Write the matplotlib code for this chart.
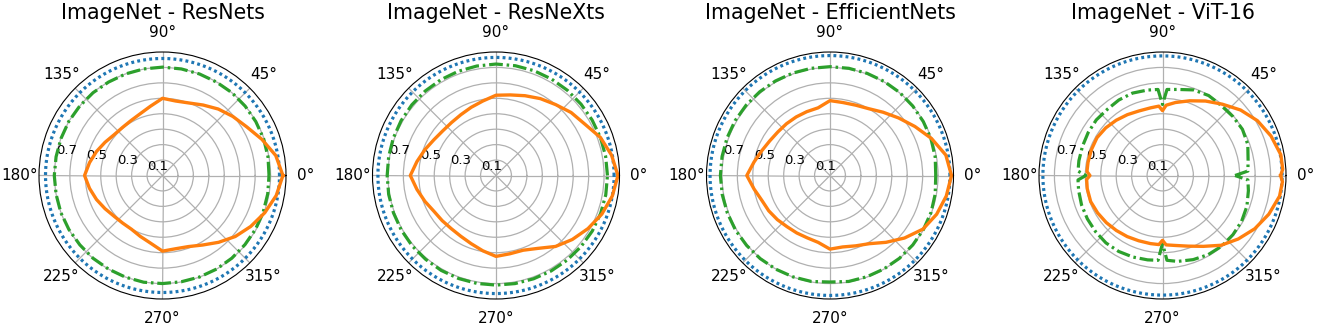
import numpy as np
import matplotlib
matplotlib.use("Agg")
import matplotlib.pyplot as plt

# angle grid (degrees) shared by the smooth curves
ANGLES = list(range(0, 360, 10))

TITLES = ["ImageNet - ResNets", "ImageNet - ResNeXts",
          "ImageNet - EfficientNets", "ImageNet - ViT-16"]

# blue dotted: constant accuracy per panel
BLUE_ACC = [0.758, 0.765, 0.777, 0.775]

# orange solid curves (accuracy vs rotation angle)
ORANGE_RESNET = [0.780, 0.745, 0.685, 0.630, 0.595, 0.562, 0.527, 0.500, 0.490, 0.500,
                 0.455, 0.425, 0.410, 0.405, 0.410, 0.430, 0.455, 0.480, 0.505, 0.480,
                 0.455, 0.430, 0.410, 0.402, 0.402, 0.420, 0.445, 0.490, 0.482, 0.490,
                 0.520, 0.565, 0.615, 0.660, 0.705, 0.748]
ORANGE_RESNEXT = [0.790, 0.760, 0.720, 0.665, 0.635, 0.600, 0.575, 0.550, 0.530, 0.520,
                  0.490, 0.470, 0.455, 0.448, 0.450, 0.464, 0.490, 0.520, 0.555, 0.520,
                  0.490, 0.464, 0.455, 0.450, 0.455, 0.470, 0.495, 0.524, 0.515, 0.515,
                  0.545, 0.600, 0.645, 0.688, 0.730, 0.765]
ORANGE_EFFNET = [0.787, 0.762, 0.700, 0.635, 0.580, 0.535, 0.500, 0.485, 0.480, 0.485,
                 0.445, 0.440, 0.438, 0.438, 0.440, 0.450, 0.470, 0.500, 0.539, 0.500,
                 0.470, 0.458, 0.445, 0.433, 0.430, 0.430, 0.440, 0.477, 0.470, 0.485,
                 0.510, 0.565, 0.630, 0.695, 0.735, 0.765]

# green dash-dot curves
GREEN_RESNET = [0.690, 0.694, 0.697, 0.698, 0.699, 0.700, 0.699, 0.700, 0.701, 0.702,
                0.701, 0.700, 0.699, 0.700, 0.700, 0.701, 0.700, 0.700, 0.701, 0.700,
                0.701, 0.700, 0.699, 0.700, 0.700, 0.701, 0.702, 0.700, 0.699, 0.700,
                0.700, 0.699, 0.697, 0.696, 0.694, 0.692]
GREEN_RESNEXT = [0.722, 0.721, 0.720, 0.719, 0.719, 0.720, 0.721, 0.722, 0.722, 0.722,
                 0.720, 0.718, 0.716, 0.714, 0.712, 0.710, 0.708, 0.706, 0.705, 0.706,
                 0.707, 0.708, 0.709, 0.709, 0.710, 0.710, 0.710, 0.710, 0.711, 0.712,
                 0.714, 0.716, 0.718, 0.720, 0.721, 0.722]
GREEN_EFFNET = [0.685, 0.692, 0.696, 0.698, 0.700, 0.702, 0.703, 0.704, 0.705, 0.705,
                0.705, 0.706, 0.707, 0.708, 0.709, 0.710, 0.710, 0.710, 0.710, 0.709,
                0.708, 0.707, 0.705, 0.703, 0.701, 0.699, 0.697, 0.690, 0.697, 0.698,
                0.699, 0.700, 0.700, 0.699, 0.697, 0.692]

# ViT has sharp dips at multiples of 90 deg, so it gets its own angle list
ANGLES_VIT = [0, 3, 10, 20, 30, 40, 50, 60, 70, 80, 87, 90, 93, 100, 110, 120, 130,
              140, 150, 160, 170, 177, 180, 183, 190, 200, 210, 220, 230, 240, 250,
              260, 267, 270, 273, 280, 290, 300, 310, 320, 330, 340, 350, 357]
ORANGE_VIT = [0.765, 0.780, 0.778, 0.748, 0.710, 0.660, 0.603, 0.557, 0.515, 0.480,
              0.456, 0.420, 0.450, 0.445, 0.445, 0.455, 0.467, 0.480, 0.490, 0.490,
              0.490, 0.490, 0.470, 0.492, 0.495, 0.495, 0.485, 0.475, 0.465, 0.457,
              0.450, 0.448, 0.448, 0.420, 0.450, 0.460, 0.487, 0.530, 0.590, 0.640,
              0.690, 0.733, 0.770, 0.778]
GREEN_VIT = [0.470, 0.554, 0.563, 0.588, 0.598, 0.595, 0.592, 0.598, 0.590, 0.566,
             0.558, 0.460, 0.558, 0.562, 0.568, 0.565, 0.558, 0.560, 0.556, 0.552,
             0.550, 0.548, 0.496, 0.548, 0.552, 0.558, 0.562, 0.566, 0.570, 0.568,
             0.562, 0.555, 0.550, 0.440, 0.550, 0.565, 0.580, 0.592, 0.597, 0.596,
             0.592, 0.582, 0.565, 0.554]

ORANGE = [ORANGE_RESNET, ORANGE_RESNEXT, ORANGE_EFFNET, ORANGE_VIT]
GREEN = [GREEN_RESNET, GREEN_RESNEXT, GREEN_EFFNET, GREEN_VIT]
PANEL_ANGLES = [ANGLES, ANGLES, ANGLES, ANGLES_VIT]

R_TICKS = [0.1, 0.2, 0.3, 0.4, 0.5, 0.6, 0.7]
R_LABELS = ["0.1", "", "0.3", "", "0.5", "", "0.7"]


def closed(angles, values):
    th = np.deg2rad(list(angles) + [angles[0] + 360])
    return th, list(values) + [values[0]]


fig = plt.figure(figsize=(13.17, 3.27), dpi=100)
W, H = 1317.0, 327.0
lefts = [39, 372.5, 706.5, 1039]
size = 247

for i in range(4):
    ax = fig.add_axes([lefts[i] / W, 28 / H, size / W, size / H], projection="polar")
    th_full = np.deg2rad(np.linspace(0, 360, 361))
    ax.plot(th_full, np.full_like(th_full, BLUE_ACC[i]), color="tab:blue", lw=2.3,
            linestyle=(0, (0.9, 1.0)))
    th, g = closed(PANEL_ANGLES[i], GREEN[i])
    ax.plot(th, g, color="tab:green", lw=2.3, linestyle=(0, (4.3, 1.2, 0.8, 1.2)))
    th, o = closed(PANEL_ANGLES[i], ORANGE[i])
    ax.plot(th, o, "-", color="tab:orange", lw=2.4)

    ax.set_rlim(0, 0.8)
    ax.set_rticks(R_TICKS)
    ax.set_yticklabels(R_LABELS)
    ax.set_rlabel_position(170)
    ax.tick_params(axis="y", labelsize=9.5)
    ax.tick_params(axis="x", labelsize=11)
    ax.grid(color="#b0b0b0", lw=0.9)
    ax.set_title(TITLES[i], fontsize=14.8, y=1.135, pad=0)

fig.savefig("out.png", dpi=100)
